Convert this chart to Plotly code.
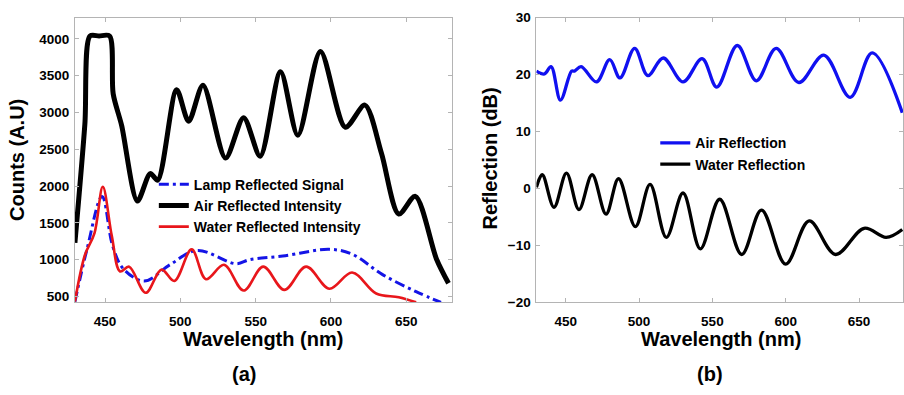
import plotly.graph_objects as go

W, H = 904, 395
FONT = "Liberation Sans, Arial, Helvetica, sans-serif"

# ---------------- Panel (a): counts vs wavelength ----------------
wl_lamp = [430, 438, 448, 455, 462, 476, 493, 511, 537, 546, 568, 599, 614, 634, 656.5, 673]
counts_lamp = [430, 1140, 1860, 1190, 880, 710, 930, 1125, 945, 1000, 1050, 1140, 1075, 800, 565, 420]

wl_air = [430, 436.6, 440, 446, 453, 455.4, 461, 471.5, 480, 485, 497.5, 505.5, 515, 530, 542,
          553, 566.5, 578, 593, 609.5, 622.5, 633.5, 645, 656, 670, 678]
counts_air = [1230, 2840, 4040, 4040, 4040, 3255, 2825, 1797, 2170, 2080, 3310, 2880, 3370, 2380, 2930,
              2405, 3555, 2690, 3830, 2800, 3100, 2445, 1620, 1860, 1010, 680]

wl_water = [430, 436.6, 443, 448.5, 454.5, 460, 466, 477, 487.5, 496, 507.5, 517, 529, 542,
            555, 569, 583.5, 599, 614, 630, 645, 656.5]
counts_water = [430, 1060, 1360, 1990, 1320, 840, 905, 550, 865, 710, 1140, 735, 930, 580,
                905, 590, 905, 605, 825, 540, 490, 420]

# ---------------- Panel (b): reflection (dB) ----------------
wl_air_b = [430, 435.5, 440, 446.4, 454, 456, 460.5, 471, 480, 487, 497, 506, 516.5, 530, 543,
            553, 567, 580, 593.5, 609, 626, 644, 659, 679.5]
refl_air = [20.6, 20.1, 21.4, 15.5, 20.6, 20.6, 21.4, 18.7, 22.6, 19.4, 24.6, 19.8, 22.9, 18.7, 22.8,
            17.8, 25.1, 18.9, 24.6, 18.6, 23.4, 16.0, 23.8, 13.3]

wl_water_b = [430, 434, 442, 450.5, 459, 468, 477.5, 486, 497.5, 507.5, 518.6, 530, 541.8,
              555, 570, 583.5, 600, 616, 634, 653.5, 668.5, 679.5]
refl_water = [0.2, 2.4, -3.3, 2.7, -3.7, 2.4, -4.5, 1.7, -6.7, 0.7, -8.6, -0.8, -10.6,
              -1.9, -11.6, -3.8, -13.3, -5.7, -11.6, -7.0, -8.6, -7.2]

x_ticks = [450, 500, 550, 600, 650]
y_ticks_a = [500, 1000, 1500, 2000, 2500, 3000, 3500, 4000]
y_ticks_b = [-20, -10, 0, 10, 20, 30]

fig = go.Figure()

fig.add_trace(go.Scatter(x=wl_lamp, y=counts_lamp, mode="lines", name="Lamp Reflected Signal",
                         line=dict(color="#1414e6", width=3, dash="10px,4px,3px,4px", shape="spline"),
                         xaxis="x", yaxis="y", legend="legend"))
fig.add_trace(go.Scatter(x=wl_air, y=counts_air, mode="lines", name="Air Reflected Intensity",
                         line=dict(color="black", width=5, shape="spline", smoothing=0.8),
                         xaxis="x", yaxis="y", legend="legend"))
fig.add_trace(go.Scatter(x=wl_water, y=counts_water, mode="lines", name="Water Reflected Intensity",
                         line=dict(color="#e8161b", width=2.6, shape="spline"),
                         xaxis="x", yaxis="y", legend="legend"))

fig.add_trace(go.Scatter(x=wl_air_b, y=refl_air, mode="lines", name="Air Reflection",
                         line=dict(color="#1010f0", width=3.3, shape="spline"),
                         xaxis="x2", yaxis="y2", legend="legend2"))
fig.add_trace(go.Scatter(x=wl_water_b, y=refl_water, mode="lines", name="Water Reflection",
                         line=dict(color="black", width=3.3, shape="spline"),
                         xaxis="x2", yaxis="y2", legend="legend2"))

def px_x(p):
    return p / W

def px_y(p):
    return 1 - p / H

axis_style = dict(showline=True, linecolor="#b4b4b4", linewidth=1, mirror="ticks",
                  ticks="inside", ticklen=4, tickcolor="#b4b4b4", showgrid=False, zeroline=False,
                  tickfont=dict(family=FONT, size=13.5, color="black", weight="bold"))
x_style = dict(axis_style, ticklabelstandoff=6)
y_style = dict(axis_style, ticklabelstandoff=2)

ydom = [px_y(307), px_y(11)]

fig.update_layout(
    width=W, height=H,
    margin=dict(l=0, r=0, t=0, b=0),
    paper_bgcolor="white", plot_bgcolor="white",
    font=dict(family=FONT, color="black"),
    xaxis=dict(domain=[px_x(75), px_x(452)], range=[430, 680], tickvals=x_ticks, anchor="y", **x_style),
    yaxis=dict(domain=ydom, range=[420, 4290], tickvals=y_ticks_a, anchor="x", **y_style),
    xaxis2=dict(domain=[px_x(537), px_x(904)], range=[430, 680], tickvals=x_ticks, anchor="y2", **x_style),
    yaxis2=dict(domain=ydom, range=[-20, 30], tickvals=y_ticks_b, anchor="x2", **y_style),
    legend=dict(x=px_x(154), y=px_y(168), xanchor="left", yanchor="top", bgcolor="rgba(0,0,0,0)",
                font=dict(family=FONT, size=14, color="black", weight="bold"),
                itemwidth=30, tracegroupgap=0),
    legend2=dict(x=px_x(656), y=px_y(125), xanchor="left", yanchor="top", bgcolor="rgba(0,0,0,0)",
                 font=dict(family=FONT, size=14, color="black", weight="bold"),
                 itemwidth=30, tracegroupgap=0),
    showlegend=True,
)

ann_font = dict(family=FONT, size=20, color="black", weight="bold")
annotations = [
    dict(text="Counts (A.U)", x=px_x(17), y=px_y(159), textangle=-90),
    dict(text="Wavelength (nm)", x=px_x(263), y=px_y(345)),
    dict(text="(a)", x=px_x(244), y=px_y(381)),
    dict(text="Reflection (dB)", x=px_x(491), y=px_y(157), textangle=-90),
    dict(text="Wavelength (nm)", x=px_x(722), y=px_y(345)),
    dict(text="(b)", x=px_x(711), y=px_y(381)),
]
for a in annotations:
    fig.add_annotation(xref="paper", yref="paper", xanchor="center", yanchor="middle",
                       showarrow=False, font=ann_font, **a)

# remove the default page margin so the figure fills the window exactly
fig.write_html("out.html", config={"displayModeBar": False},
               post_script="document.body.style.margin='0';")
